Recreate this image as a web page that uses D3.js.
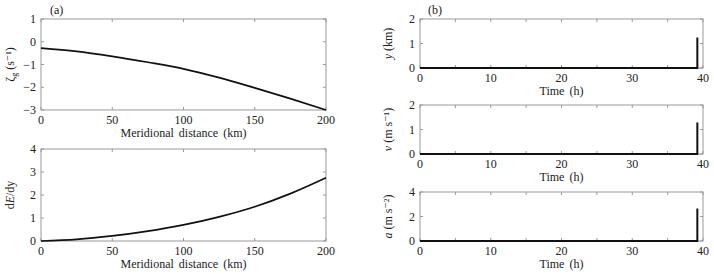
<!DOCTYPE html>
<html lang="en">
<head>
<meta charset="UTF-8">
<title>Panels (a) and (b)</title>
<script src="https://d3js.org/d3.v7.min.js"></script>
<style>
  body { margin: 0; background: #fff; }
  svg text { font-family: "Liberation Serif", "DejaVu Serif", serif; fill: #222; }
</style>
</head>
<body>
<svg id="chart" width="714" height="274"></svg>
<script>
// (a) values along meridional distance
const distance = [0, 25, 50, 75, 100, 125, 150, 175, 200];
const zeta = [-0.28, -0.42, -0.64, -0.9, -1.19, -1.58, -2.03, -2.5, -3.0];
const dEdy = [0, 0.07, 0.22, 0.43, 0.70, 1.05, 1.49, 2.06, 2.75];

// (b) time series: flat at zero then a spike near the end
const time = [0, 39.2, 39.2];
const yKm = [0, 0, 1.25];
const vel = [0, 0, 1.29];
const acc = [0, 0, 2.65];

const svg = d3.select("#chart");

function panel(opt) {
  const g = svg.append("g").attr("transform", `translate(${opt.left},${opt.top})`);
  const w = opt.width, h = opt.height;
  const x = d3.scaleLinear().domain(opt.xDomain).range([0, w]);
  const y = d3.scaleLinear().domain(opt.yDomain).range([h, 0]);
  const fmt = d => d < 0 ? "\u2212" + Math.abs(d) : d;

  // frame
  g.append("rect").attr("width", w).attr("height", h)
    .attr("fill", "none").attr("stroke", "#999").attr("stroke-width", 1);

  // tick marks on all four sides, pointing in
  const tk = 3;
  opt.xMinor.forEach(v => {
    g.append("line").attr("x1", x(v)).attr("x2", x(v)).attr("y1", h).attr("y2", h - tk).attr("stroke", "#999");
    g.append("line").attr("x1", x(v)).attr("x2", x(v)).attr("y1", 0).attr("y2", tk).attr("stroke", "#999");
  });
  opt.yMinor.forEach(v => {
    g.append("line").attr("x1", 0).attr("x2", tk).attr("y1", y(v)).attr("y2", y(v)).attr("stroke", "#999");
    g.append("line").attr("x1", w).attr("x2", w - tk).attr("y1", y(v)).attr("y2", y(v)).attr("stroke", "#999");
  });

  // tick labels
  g.selectAll(".xl").data(opt.xTicks).enter().append("text")
    .attr("x", d => x(d)).attr("y", h + 14)
    .attr("text-anchor", "middle").attr("font-size", "12px").text(fmt);
  g.selectAll(".yl").data(opt.yTicks).enter().append("text")
    .attr("x", -5).attr("y", d => y(d) + 4)
    .attr("text-anchor", "end").attr("font-size", "12px").text(fmt);

  // x title
  g.append("text").attr("x", w / 2).attr("y", h + 27)
    .attr("text-anchor", "middle").attr("font-size", "12px")
    .attr("word-spacing", "2px").text(opt.xTitle);

  // y title
  const yt = g.append("text")
    .attr("transform", `translate(${opt.yTitleX},${h / 2}) rotate(-90)`)
    .attr("text-anchor", "middle").attr("font-size", "12px");
  opt.yTitle(yt);

  // line
  const line = d3.line().x((d, i) => x(opt.xs[i])).y(d => y(d))
    .curve(opt.smooth ? d3.curveMonotoneX : d3.curveLinear);
  g.append("path").datum(opt.ys)
    .attr("fill", "none").attr("stroke", "#111").attr("stroke-width", opt.sw || 1.7)
    .attr("d", line);
  return g;
}

// panel (a), top
panel({
  left: 41, top: 19, width: 285, height: 91,
  xDomain: [0, 200], yDomain: [-3, 1],
  xTicks: [0, 50, 100, 150, 200], xMinor: [0, 50, 100, 150, 200],
  yTicks: [1, 0, -1, -2, -3], yMinor: [1, 0, -1, -2, -3],
  xTitle: "Meridional distance (km)", yTitleX: -27,
  yTitle: t => {
    t.append("tspan").text("\u03B6");
    t.append("tspan").attr("font-size", "8px").attr("dy", 3).text("g");
    t.append("tspan").attr("dy", -3).text(" (s\u207B\u00B9)");
  },
  xs: distance, ys: zeta, smooth: true
});

// panel (a), bottom
panel({
  left: 41, top: 149, width: 285, height: 92,
  xDomain: [0, 200], yDomain: [0, 4],
  xTicks: [0, 50, 100, 150, 200], xMinor: [0, 50, 100, 150, 200],
  yTicks: [4, 3, 2, 1, 0], yMinor: [4, 3, 2, 1, 0],
  xTitle: "Meridional distance (km)", yTitleX: -27,
  yTitle: t => {
    t.append("tspan").text("d");
    t.append("tspan").attr("font-style", "italic").text("E");
    t.append("tspan").text("/dy");
  },
  xs: distance, ys: dEdy, smooth: true
});

// panel (b)
const bPanels = [
  { top: 19, dom: [0, 2], ticks: [2, 1, 0], ys: yKm, v: "y", unit: " (km)" },
  { top: 105, dom: [0, 2], ticks: [2, 1, 0], ys: vel, v: "v", unit: " (m s\u207B\u00B9)" },
  { top: 192, dom: [0, 4], ticks: [4, 2, 0], ys: acc, v: "a", unit: " (m s\u207B\u00B2)" }
];
bPanels.forEach(p => {
  panel({
    left: 420, top: p.top, width: 283, height: 49,
    xDomain: [0, 40], yDomain: p.dom,
    xTicks: [0, 10, 20, 30, 40], xMinor: [0, 5, 10, 15, 20, 25, 30, 35, 40],
    yTicks: p.ticks, yMinor: p.ticks,
    xTitle: "Time (h)", yTitleX: -28,
    yTitle: t => {
      t.append("tspan").attr("font-style", "italic").text(p.v);
      t.append("tspan").text(p.unit);
    },
    xs: time, ys: p.ys, sw: 2
  });
});

// panel letters
svg.append("text").attr("x", 50).attr("y", 14).attr("font-size", "12px").text("(a)");
svg.append("text").attr("x", 428).attr("y", 14).attr("font-size", "12px").text("(b)");
</script>
</body>
</html>
